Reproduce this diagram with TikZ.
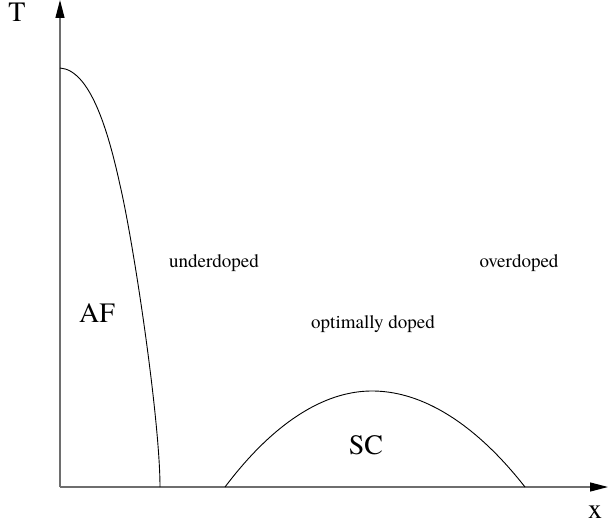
\documentclass[tikz,border=0pt]{standalone}
\usepackage{fontspec}
\setmainfont{TeX Gyre Termes}
\usetikzlibrary{arrows.meta}
\definecolor{axisgray}{HTML}{6E6E6E}

\begin{document}
\begin{tikzpicture}[x=1pt,y=-1pt,
  axis/.style={axisgray,line width=1.2pt,-{Triangle[length=18pt,width=9pt,color=black]}},
  phase/.style={black,line width=0.9pt},
  region/.style={anchor=base,font=\rmfamily\fontsize{19}{22}\selectfont},
  big/.style={anchor=base,font=\rmfamily\fontsize{28}{32}\selectfont}]
\useasboundingbox (0,0) rectangle (608,527);
\coordinate (O) at (60,487);
\coordinate (Ttop) at (60,0);
\coordinate (Xend) at (608,487);
\draw[axis] (O) -- (Ttop);
\draw[axis] (O) -- (Xend);
\node[big] (T) at (17,22) {T};
\node[big] (x) at (595,518) {x};
% antiferromagnet line
\draw[phase] (60,68) .. controls (90,70) and (108,130) .. (120,185)
  .. controls (134,245) and (160,420) .. (160,487);
% superconducting dome
\draw[phase] (225,487) parabola bend (372,391) (525,487);
\node[big] (AF) at (97,322) {AF};
\node[big] (SC) at (366,454) {SC};
\node[region] (under) at (214,267) {underdoped};
\node[region] (opt) at (373,328) {optimally doped};
\node[region] (over) at (519,267) {overdoped};
\end{tikzpicture}
\end{document}
